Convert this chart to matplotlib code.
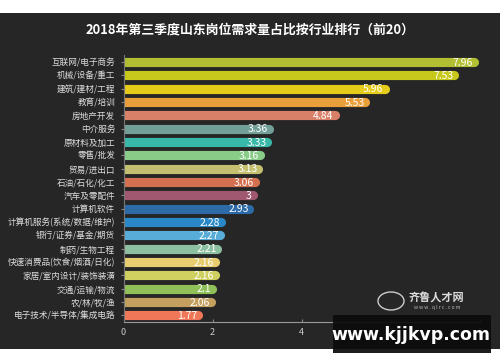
import matplotlib
matplotlib.use("Agg")
import matplotlib.pyplot as plt
import matplotlib.transforms as mtransforms
from matplotlib.patches import Rectangle, Ellipse

plt.rcParams['font.family'] = ['Noto Sans CJK SC', 'DejaVu Sans']

title = "2018年第三季度山东岗位需求量占比按行业排行（前20）"
industries = ["互联网/电子商务", "机械/设备/重工", "建筑/建材/工程", "教育/培训", "房地产开发",
              "中介服务", "原材料及加工", "零售/批发", "贸易/进出口", "石油/石化/化工",
              "汽车及零配件", "计算机软件", "计算机服务(系统/数据/维护)", "银行/证券/基金/期货",
              "制药/生物工程", "快速消费品(饮食/烟酒/日化)", "家居/室内设计/装饰装潢",
              "交通/运输/物流", "农/林/牧/渔", "电子技术/半导体/集成电路"]
values = [7.96, 7.53, 5.96, 5.53, 4.84, 3.36, 3.33, 3.16, 3.13, 3.06,
          3, 2.93, 2.28, 2.27, 2.21, 2.16, 2.16, 2.1, 2.06, 1.77]
colors = ["#b3bf32", "#c8c81c", "#e6cc1a", "#eaa03a", "#d88068",
          "#72a098", "#38b8a8", "#88cc88", "#c4c070", "#d47050",
          "#a05870", "#2c6aa8", "#2a88c8", "#58acd8", "#8cc0a0",
          "#e8cc70", "#d0d060", "#90c058", "#c4a060", "#f07858"]
xticks = [0, 2, 4, 6, 8]

bg = "#262626"
fig = plt.figure(figsize=(5, 3.62), dpi=100, facecolor="white")
# dark panel behind everything
bgax = fig.add_axes([0, 13 / 362, 1, 336 / 362], zorder=-1)
bgax.set_facecolor(bg)
bgax.set_xticks([])
bgax.set_yticks([])
for s in bgax.spines.values():
    s.set_visible(False)

ax = fig.add_axes([0.247, 0.1105, 0.713, 0.737], zorder=1)
ax.patch.set_alpha(0)

lw = 6.6  # bar thickness in points
shift = mtransforms.ScaledTranslation(-lw / 2 / 72, 0, fig.dpi_scale_trans)
for i, (v, c) in enumerate(zip(values, colors)):
    ax.plot([0, v], [i, i], color=c, lw=lw, solid_capstyle="round",
            transform=ax.transData + shift, clip_on=True)
    ax.annotate(f"{v:g}", xy=(v, i), xytext=(-4, -0.5), textcoords="offset points",
                ha="right", va="center", color="white", fontsize=7.5)

ax.set_xlim(0, 8)
ax.set_ylim(len(values) - 0.5, -0.5)
ax.set_yticks(range(len(industries)))
ax.set_yticklabels(industries, color="#dddddd", fontsize=6.2)
ax.set_xticks(xticks)
ax.set_xticklabels([str(t) for t in xticks], color="#cccccc", fontsize=6.5)
ax.tick_params(axis="y", length=2, color="#888888", pad=4)
ax.tick_params(axis="x", direction="in", length=2, color="#888888", pad=4)
for s in ["top", "right"]:
    ax.spines[s].set_visible(False)
ax.spines["left"].set_color("#777777")
ax.spines["bottom"].set_color("#999999")
ax.spines["left"].set_linewidth(0.8)
ax.spines["bottom"].set_linewidth(0.8)

fig.text(0.5, 1 - 30 / 362, title, ha="center", va="center", color="white",
         fontsize=9.3, fontweight="bold")

# watermarks
fig.patches.append(Ellipse((391 / 500, 1 - 301 / 362), 26 / 500, 18 / 362,
                           transform=fig.transFigure, facecolor="none",
                           edgecolor="#cccccc", lw=1, zorder=5))
fig.text(436 / 500, 1 - 298 / 362, "齐鲁人才网", ha="center", va="center", color="#dddddd",
         fontsize=8, fontweight="bold", zorder=6)
fig.text(437 / 500, 1 - 308 / 362, "w w w . q l r c . c o m", ha="center", va="center",
         color="#bbbbbb", fontsize=3.6, zorder=6)
fig.patches.append(Rectangle((333 / 500, 1 - 353 / 362), 158 / 500, 38 / 362,
                             transform=fig.transFigure, facecolor="#0c0c0c",
                             edgecolor="none", alpha=0.93, zorder=5))
fig.text(411 / 500, 1 - 335 / 362, "www.kjjkvp.com", ha="center", va="center",
         color="white", fontsize=12.5, fontweight="bold", zorder=6,
         family=["DejaVu Sans"])

fig.savefig("out.png", dpi=100, facecolor="white")
